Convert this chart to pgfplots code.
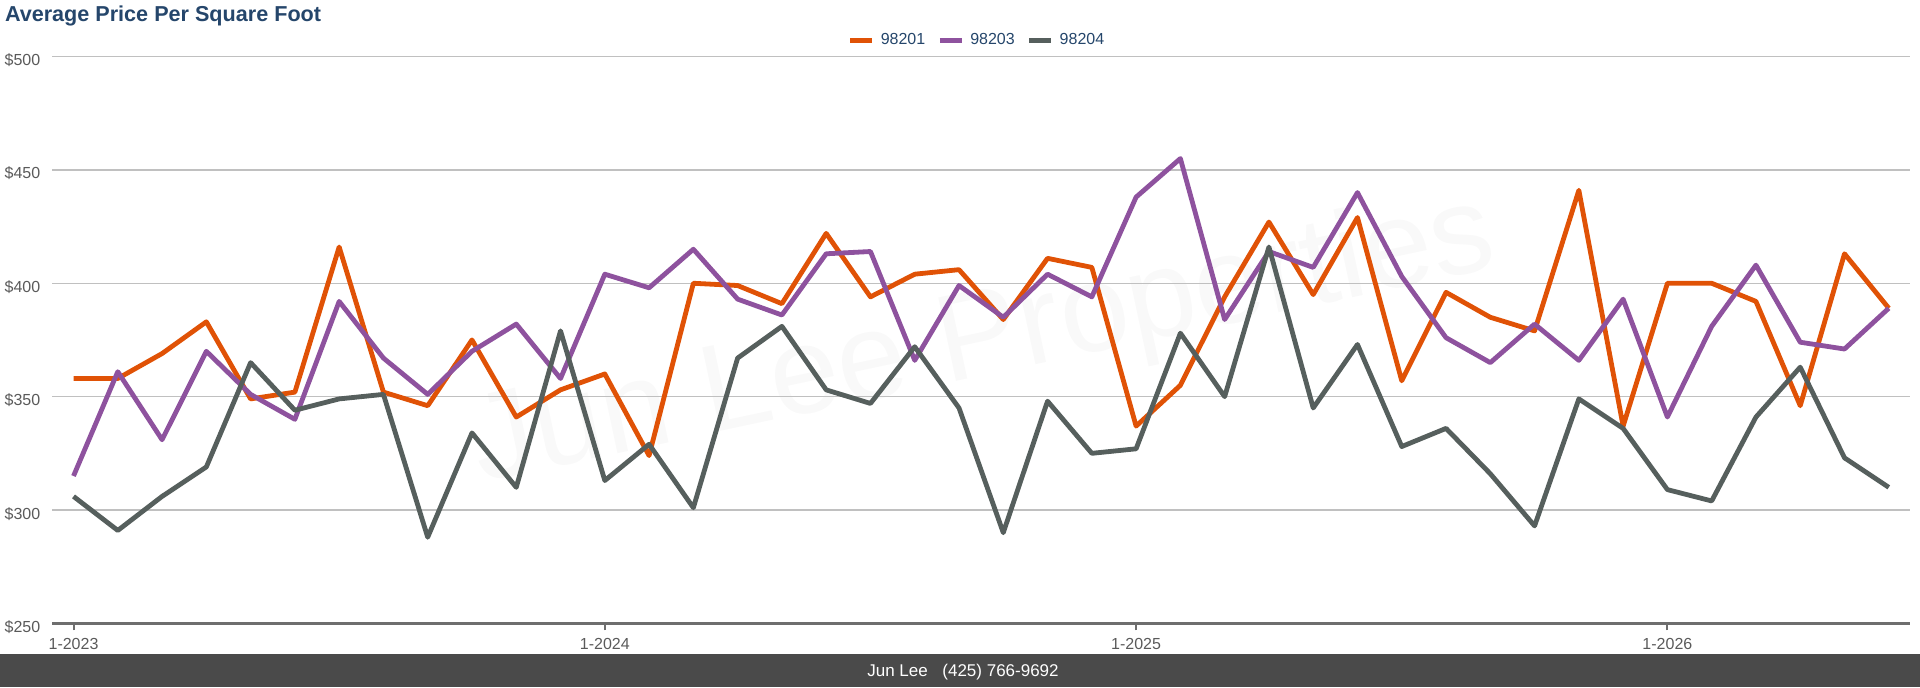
\documentclass[border=0pt]{standalone}
\usepackage{fontspec}
\setmainfont{Liberation Sans}
\usepackage{pgfplots}
\pgfplotsset{compat=1.18}
\usepackage{pgfplotstable}
\definecolor{cOrange}{RGB}{224,82,6}
\definecolor{cPurple}{RGB}{142,82,158}
\definecolor{cGray}{RGB}{86,95,93}
\definecolor{titleblue}{RGB}{37,70,107}
\definecolor{gridgray}{RGB}{192,192,192}
\definecolor{axisgray}{RGB}{110,110,110}
\definecolor{labelgray}{RGB}{90,90,90}
\definecolor{bargray}{RGB}{74,74,74}

\pgfplotstableread{
m a b c
0 358 315 306
1 358 361 291
2 369 331 306
3 383 370 319
4 349 351 365
5 352 340 344
6 416 392 349
7 352 367 351
8 346 351 288
9 375 370 334
10 341 382 310
11 353 358 379
12 360 404 313
13 324 398 329
14 400 415 301
15 399 393 367
16 391 386 381
17 422 413 353
18 394 414 347
19 404 366 372
20 406 399 345
21 384 385 290
22 411 404 348
23 407 394 325
24 337 438 327
25 355 455 378
26 394 384 350
27 427 414 416
28 395 407 345
29 429 440 373
30 357 403 328
31 396 376 336
32 385 365 316
33 379 382 293
34 441 366 349
35 337 393 336
36 400 341 309
37 400 381 304
38 392 408 341
39 346 374 363
40 413 371 323
41 389 389 310
}\datatable

\begin{document}
\begin{tikzpicture}
\path[use as bounding box] (0,0) rectangle (960pt,343.5pt);
\fill[bargray] (0,0) rectangle (960pt,16.5pt);
\node[anchor=base, text=white, font=\fontsize{8.5pt}{10pt}\selectfont, inner sep=0pt] at (481.5pt,5.5pt) {Jun Lee\hspace{7.3pt}(425) 766-9692};
\node[anchor=base west, inner sep=0pt, text=titleblue, font=\fontsize{10.8pt}{12pt}\selectfont\bfseries] at (2.3pt,332.6pt) {Average Price Per Square Foot};
\node[rotate=12, text=black!2.5, font=\fontsize{62pt}{62pt}\selectfont] at (492pt,172pt) {Jun Lee Properties};
\begin{axis}[
  at={(26pt,31.8pt)}, anchor=south west,
  width=929pt, height=283.45pt, scale only axis,
  xmin=-0.486, xmax=41.48, ymin=250, ymax=500,
  axis x line*=bottom, axis y line*=left,
  x axis line style={draw=axisgray, line width=1.4pt, -},
  y axis line style={draw=none},
  xtick={0,12,24,36}, xticklabels={1-2023,1-2024,1-2025,1-2026},
  ytick={250,300,...,500},
  yticklabel={\$\pgfmathprintnumber{\tick}},
  ymajorgrids, major grid style={draw=gridgray, line width=0.75pt},
  tick align=outside,
  xtick style={draw=axisgray, line width=1pt},
  major tick length=3.5pt,
  ytick style={draw=none},
  ticklabel style={font=\fontsize{8pt}{9.6pt}\selectfont, text=labelgray},
  /pgf/number format/assume math mode=true,
  xticklabel style={anchor=base, inner sep=0pt, yshift=-9.5pt},
  yticklabel style={anchor=base east, inner sep=0pt, xshift=-2.2pt, yshift=-4.5pt},
  legend style={at={(axis description cs:0.4973,1.0279)}, anchor=center,
    draw=none, fill=none, legend columns=-1,
    font=\fontsize{8pt}{9.6pt}\selectfont, text=titleblue,
    inner sep=0pt, outer sep=0pt, column sep=3pt,
    /tikz/every even column/.append style={column sep=6pt},
    nodes={inner sep=0pt}},
  legend image code/.code={\draw[#1, line width=2.5pt, line cap=butt] (0pt,0pt) -- (11pt,0pt);},
  every axis plot/.append style={line width=2.4pt, line join=round, no markers},
]
\addplot[cOrange] table[x=m,y=a] {\datatable};
\addlegendentry{98201}
\addplot[cPurple] table[x=m,y=b] {\datatable};
\addlegendentry{98203}
\addplot[cGray] table[x=m,y=c] {\datatable};
\addlegendentry{98204}
\end{axis}
\end{tikzpicture}
\end{document}
